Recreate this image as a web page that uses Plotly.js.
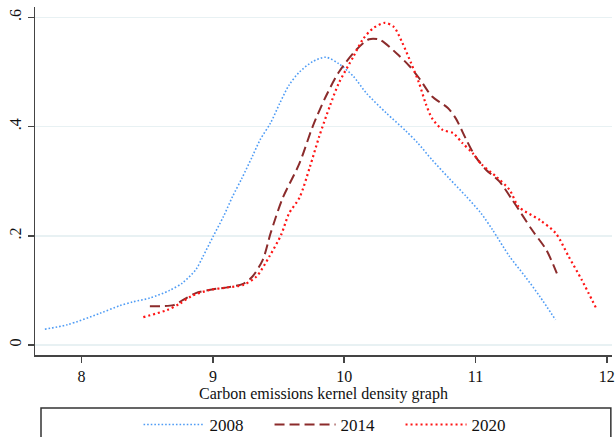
<!DOCTYPE html>
<html>
<head>
<meta charset="utf-8">
<script src="https://cdn.plot.ly/plotly-3.0.1.min.js"></script>
<style>html,body{margin:0;padding:0;background:#fff;}#chart{width:615px;height:437px;}</style>
</head>
<body>
<div id="chart"></div>
<script>
// Series names
const seriesNames = ['2008', '2014', '2020'];

// 2008 kernel density
const x2008 = [7.72, 7.89, 8.14, 8.29, 8.39, 8.52, 8.67, 8.77, 8.87, 8.92, 9.0, 9.08, 9.15, 9.22, 9.30, 9.36, 9.44, 9.51, 9.58, 9.66, 9.76, 9.86, 9.96, 10.07, 10.17, 10.32, 10.47, 10.56, 10.67, 10.80, 10.93, 11.04, 11.13, 11.26, 11.38, 11.49, 11.61];
const y2008 = [0.029, 0.037, 0.058, 0.072, 0.079, 0.086, 0.100, 0.114, 0.138, 0.160, 0.198, 0.235, 0.272, 0.305, 0.345, 0.376, 0.407, 0.443, 0.476, 0.500, 0.519, 0.527, 0.515, 0.492, 0.461, 0.425, 0.392, 0.370, 0.339, 0.305, 0.272, 0.242, 0.211, 0.162, 0.125, 0.089, 0.046];

// 2014 kernel density
const x2014 = [8.52, 8.70, 8.77, 8.87, 9.0, 9.12, 9.23, 9.30, 9.38, 9.44, 9.53, 9.66, 9.76, 9.86, 9.96, 10.09, 10.19, 10.27, 10.40, 10.50, 10.57, 10.67, 10.79, 10.85, 10.93, 11.0, 11.08, 11.18, 11.28, 11.43, 11.54, 11.62];
const y2014 = [0.071, 0.073, 0.082, 0.095, 0.102, 0.106, 0.112, 0.125, 0.156, 0.205, 0.268, 0.333, 0.400, 0.455, 0.500, 0.540, 0.560, 0.559, 0.534, 0.510, 0.489, 0.455, 0.434, 0.415, 0.376, 0.345, 0.321, 0.300, 0.266, 0.211, 0.174, 0.131];

// 2020 kernel density
const x2020 = [8.47, 8.65, 8.75, 8.84, 8.98, 9.10, 9.23, 9.33, 9.43, 9.52, 9.58, 9.66, 9.74, 9.81, 9.89, 9.96, 10.07, 10.14, 10.22, 10.31, 10.38, 10.44, 10.51, 10.57, 10.62, 10.67, 10.75, 10.83, 10.90, 10.98, 11.05, 11.16, 11.26, 11.33, 11.49, 11.61, 11.71, 11.81, 11.92];
const y2020 = [0.051, 0.064, 0.076, 0.090, 0.101, 0.105, 0.110, 0.125, 0.162, 0.202, 0.241, 0.270, 0.327, 0.382, 0.437, 0.480, 0.528, 0.559, 0.580, 0.590, 0.582, 0.555, 0.516, 0.480, 0.443, 0.415, 0.394, 0.388, 0.370, 0.351, 0.330, 0.308, 0.284, 0.253, 0.229, 0.205, 0.162, 0.119, 0.067];

// Axis ticks
const xTickVals = [8, 9, 10, 11, 12];
const xTickText = ['8', '9', '10', '11', '12'];
const yTickVals = [0, 0.2, 0.4, 0.6];
const yTickText = ['0', '.2', '.4', '.6'];

const xTitle = 'Carbon emissions kernel density graph';

const font = 'Liberation Serif, Times New Roman, serif';

const traces = [
  {x: x2008, y: y2008, name: seriesNames[0], mode: 'lines',
   line: {color: '#4f9cf5', width: 1.6, dash: '1.6px,2px', shape: 'spline', smoothing: 0.8}},
  {x: x2014, y: y2014, name: seriesNames[1], mode: 'lines',
   line: {color: '#8b2b2b', width: 2, dash: '10px,5px', shape: 'spline', smoothing: 0.8}},
  {x: x2020, y: y2020, name: seriesNames[2], mode: 'lines',
   line: {color: '#ff1414', width: 2.2, dash: '2px,3px', shape: 'spline', smoothing: 0.8}}
];

const layout = {
  width: 615, height: 437,
  margin: {l: 35, r: 3, t: 7, b: 82, autoexpand: false},
  paper_bgcolor: '#ffffff', plot_bgcolor: '#ffffff',
  font: {family: font, size: 15, color: '#111'},
  showlegend: true,
  xaxis: {
    range: [7.645, 12.04], tickvals: xTickVals, ticktext: xTickText,
    showgrid: false, zeroline: false, showline: true, linecolor: '#444', linewidth: 1.5,
    ticks: 'outside', ticklen: 6, tickwidth: 1.5, tickcolor: '#444',
    tickfont: {family: font, size: 16, color: '#111'},
    title: {text: xTitle, font: {family: font, size: 16, color: '#111'}, standoff: 2}
  },
  yaxis: {
    range: [-0.0183, 0.619], tickvals: yTickVals, ticktext: yTickText, tickangle: -90,
    showgrid: true, gridcolor: '#e8f1f3', gridwidth: 1.5,
    zeroline: false, showline: true, linecolor: '#444', linewidth: 1.5,
    ticks: 'outside', ticklen: 6, tickwidth: 1.5, tickcolor: '#444',
    tickfont: {family: font, size: 16, color: '#111'}
  },
  legend: {
    orientation: 'h', x: 0.52, xanchor: 'center', y: -0.201, yanchor: 'middle',
    font: {family: font, size: 17, color: '#111'}, itemwidth: 61,
    bgcolor: 'rgba(0,0,0,0)', borderwidth: 0,
    entrywidth: 55, entrywidthmode: 'pixels'
  },
  shapes: [{
    type: 'rect', xref: 'paper', yref: 'paper',
    x0: 0.0104, x1: 0.998, y0: -0.152, y1: -0.26,
    line: {color: '#333', width: 1.5}, fillcolor: 'rgba(0,0,0,0)', layer: 'below'
  }]
};

Plotly.newPlot('chart', traces, layout, {displayModeBar: false, staticPlot: true});
</script>
</body>
</html>
